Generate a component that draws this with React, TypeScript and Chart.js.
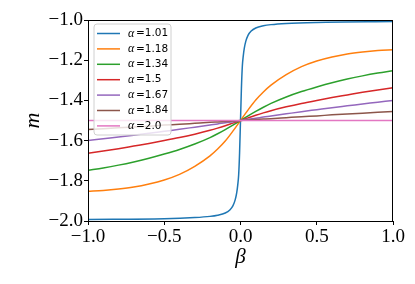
import React, { useEffect, useRef } from "react";
import { Chart, registerables } from "chart.js";

Chart.register(...registerables);

const alphaLabels = ["1.01", "1.18", "1.34", "1.5", "1.67", "1.84", "2.0"];
const colors = ["#1f77b4", "#ff7f0e", "#2ca02c", "#d62728", "#9467bd", "#8c564b", "#e377c2"];

const betaBlue = [-1, -0.5, -0.3, -0.2, -0.15, -0.1, -0.07, -0.05, -0.035, -0.025, -0.018, -0.012, -0.006, 0,
  0.006, 0.012, 0.018, 0.025, 0.035, 0.05, 0.07, 0.1, 0.15, 0.2, 0.3, 0.5, 1];
const mBlue = [-1.992, -1.989, -1.983, -1.977, -1.971, -1.96, -1.945, -1.925, -1.895, -1.86, -1.82, -1.77, -1.66, -1.5,
  -1.34, -1.23, -1.18, -1.14, -1.105, -1.075, -1.055, -1.04, -1.029, -1.023, -1.017, -1.012, -1.008];

const betaGrid = [-1, -0.9, -0.8, -0.7, -0.6, -0.5, -0.4, -0.3, -0.2, -0.15, -0.1, -0.05, 0,
  0.05, 0.1, 0.15, 0.2, 0.3, 0.4, 0.5, 0.6, 0.7, 0.8, 0.9, 1];
const mOrange = [-1.852, -1.848, -1.841, -1.831, -1.816, -1.796, -1.768, -1.728, -1.676, -1.642, -1.602, -1.553, -1.5,
  -1.447, -1.398, -1.358, -1.324, -1.272, -1.232, -1.204, -1.184, -1.169, -1.159, -1.152, -1.148];
const mGreen = [-1.748, -1.736, -1.722, -1.706, -1.688, -1.667, -1.644, -1.617, -1.585, -1.566, -1.545, -1.523, -1.5,
  -1.477, -1.455, -1.434, -1.415, -1.383, -1.356, -1.333, -1.312, -1.294, -1.278, -1.264, -1.252];
const mRed = [-1.663, -1.652, -1.64, -1.627, -1.614, -1.6, -1.585, -1.568, -1.549, -1.538, -1.526, -1.513, -1.5,
  -1.487, -1.474, -1.462, -1.451, -1.432, -1.415, -1.4, -1.386, -1.373, -1.36, -1.348, -1.337];
const mPurple = [-1.6, -1.591, -1.582, -1.573, -1.564, -1.554, -1.544, -1.533, -1.522, -1.517, -1.511, -1.506, -1.5,
  -1.494, -1.489, -1.483, -1.478, -1.467, -1.456, -1.446, -1.436, -1.427, -1.418, -1.409, -1.4];
const mBrown = [-1.545, -1.541, -1.536, -1.532, -1.528, -1.523, -1.519, -1.514, -1.509, -1.507, -1.505, -1.503, -1.5,
  -1.497, -1.495, -1.493, -1.491, -1.486, -1.481, -1.477, -1.472, -1.468, -1.464, -1.459, -1.455];
const mPink = [-1.5, -1.5, -1.5, -1.5, -1.5, -1.5, -1.5, -1.5, -1.5, -1.5, -1.5, -1.5, -1.5,
  -1.5, -1.5, -1.5, -1.5, -1.5, -1.5, -1.5, -1.5, -1.5, -1.5, -1.5, -1.5];

const seriesX = [betaBlue, betaGrid, betaGrid, betaGrid, betaGrid, betaGrid, betaGrid];
const seriesY = [mBlue, mOrange, mGreen, mRed, mPurple, mBrown, mPink];

const fmt = (v: number) => (Math.round(v * 10) / 10).toFixed(1).replace("-", "\u2212");

const framePlugin = {
  id: "frame",
  afterDatasetsDraw(chart: any) {
    const { ctx, chartArea: a } = chart;
    ctx.save();
    ctx.strokeStyle = "#000";
    ctx.lineWidth = 1;
    ctx.strokeRect(Math.round(a.left) + 0.5, Math.round(a.top) + 0.5, Math.round(a.right - a.left) - 1, Math.round(a.bottom - a.top));
    ctx.restore();
  },
};

const legendPlugin = {
  id: "insideLegend",
  afterDraw(chart: any) {
    const { ctx, chartArea: a } = chart;
    const x0 = a.left + 6;
    const y0 = a.top + 4;
    const w = 77;
    const h = 111;
    const r = 3;
    ctx.save();
    ctx.beginPath();
    ctx.moveTo(x0 + r, y0);
    ctx.lineTo(x0 + w - r, y0);
    ctx.arcTo(x0 + w, y0, x0 + w, y0 + r, r);
    ctx.lineTo(x0 + w, y0 + h - r);
    ctx.arcTo(x0 + w, y0 + h, x0 + w - r, y0 + h, r);
    ctx.lineTo(x0 + r, y0 + h);
    ctx.arcTo(x0, y0 + h, x0, y0 + h - r, r);
    ctx.lineTo(x0, y0 + r);
    ctx.arcTo(x0, y0, x0 + r, y0, r);
    ctx.closePath();
    ctx.fillStyle = "rgba(255,255,255,0.8)";
    ctx.fill();
    ctx.strokeStyle = "#d0d0d0";
    ctx.lineWidth = 1;
    ctx.stroke();
    chart.data.datasets.forEach((ds: any, i: number) => {
      const yy = y0 + 9.5 + i * 15.4;
      ctx.strokeStyle = ds.borderColor;
      ctx.lineWidth = 1.5;
      ctx.beginPath();
      ctx.moveTo(x0 + 3, yy);
      ctx.lineTo(x0 + 26, yy);
      ctx.stroke();
      ctx.fillStyle = "#000";
      ctx.textBaseline = "middle";
      ctx.textAlign = "left";
      ctx.font = "italic 12px 'Liberation Serif'";
      ctx.fillText("\u03b1", x0 + 34, yy);
      ctx.font = "10.5px 'DejaVu Sans'";
      ctx.fillText("=" + ds.label, x0 + 42, yy);
    });
    ctx.restore();
  },
};

export default function App() {
  const ref = useRef<HTMLCanvasElement | null>(null);
  useEffect(() => {
    if (!ref.current) return;
    const tickFont = { family: "'Liberation Serif', serif", size: 19 };
    const chart = new Chart(ref.current, {
      type: "line",
      data: {
        datasets: alphaLabels.map((lab, i) => ({
          label: lab,
          data: seriesX[i].map((x, j) => ({ x, y: seriesY[i][j] })),
          borderColor: colors[i],
          backgroundColor: colors[i],
          borderWidth: 1.5,
          pointRadius: 0,
          fill: false,
          cubicInterpolationMode: "monotone" as const,
          order: 6 - i,
        })),
      },
      options: {
        animation: false,
        responsive: false,
        maintainAspectRatio: false,
        layout: { padding: { left: 0, right: 22, top: 20, bottom: 0 } },
        plugins: { legend: { display: false }, tooltip: { enabled: false } },
        scales: {
          x: {
            type: "linear",
            min: -1,
            max: 1,
            ticks: { stepSize: 0.5, callback: (v: any) => fmt(Number(v)), font: tickFont, color: "#000", padding: 1, maxRotation: 0, autoSkip: false },
            grid: { drawOnChartArea: false, drawTicks: true, tickLength: 4, tickColor: "#000", tickWidth: 1 },
            border: { display: false },
            title: { display: true, text: "\u03b2", color: "#000", font: { family: "'Liberation Serif', serif", size: 21, style: "italic" }, padding: { top: 0, bottom: 14 } },
            afterFit: (s: any) => { s.height = 63; },
          },
          y: {
            type: "linear",
            min: -2,
            max: -1,
            ticks: { stepSize: 0.2, callback: (v: any) => fmt(Number(v)), font: tickFont, color: "#000", padding: 1, autoSkip: false },
            grid: { drawOnChartArea: false, drawTicks: true, tickLength: 4, tickColor: "#000", tickWidth: 1 },
            border: { display: false },
            title: { display: true, text: "m", color: "#000", font: { family: "'Liberation Serif', serif", size: 22, style: "italic" }, padding: { top: 20, bottom: 0 } },
            afterFit: (s: any) => { s.width = 88; },
          },
        },
      },
      plugins: [framePlugin, legendPlugin],
    });
    return () => chart.destroy();
  }, []);
  return (
    <div style={{ position: "fixed", left: 0, top: 0, width: 415, height: 284, background: "#fff" }}>
      <canvas ref={ref} width={415} height={284} style={{ width: 415, height: 284 }} />
    </div>
  );
}
